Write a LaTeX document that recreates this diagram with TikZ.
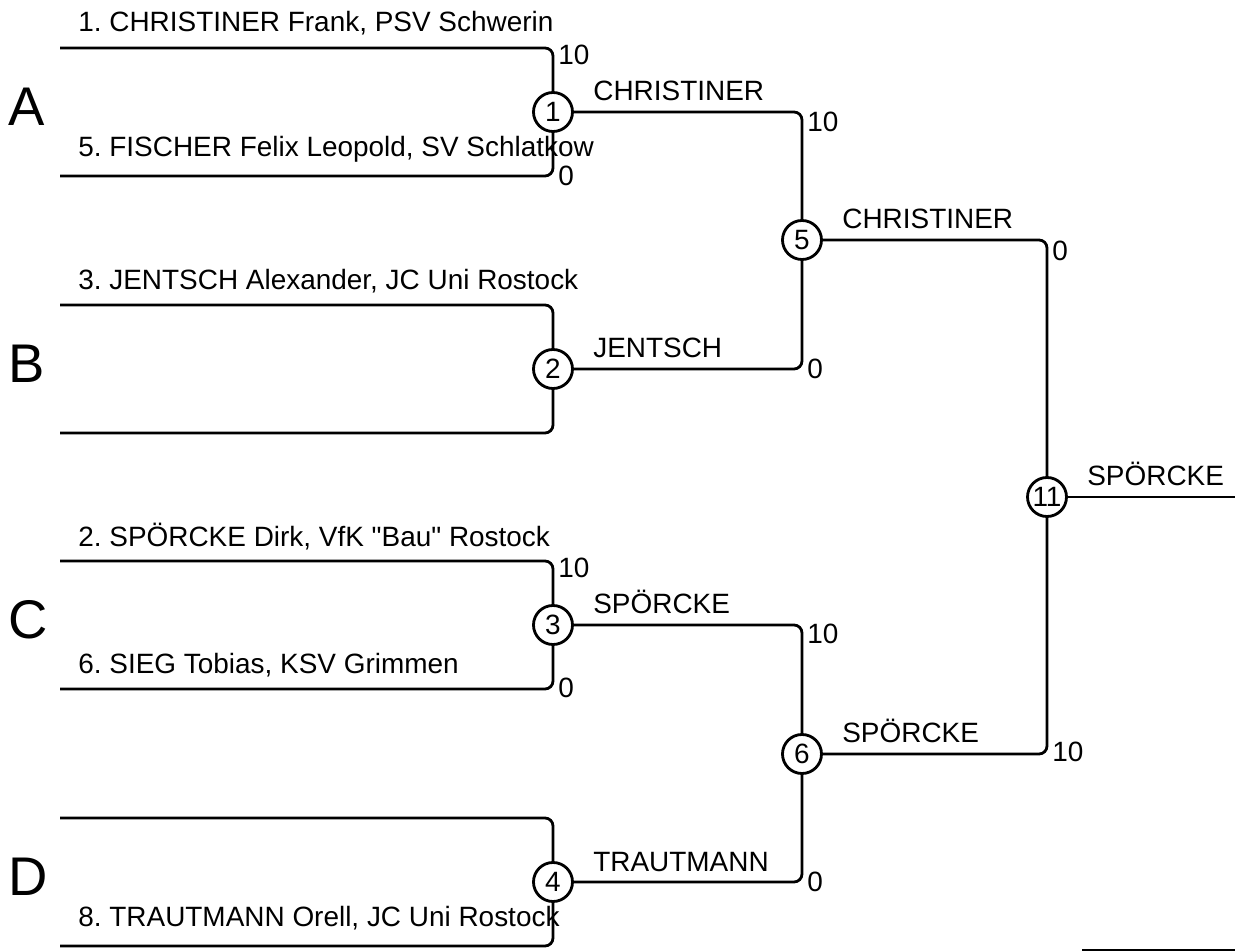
\documentclass[tikz,border=0pt]{standalone}
\usepackage{fontspec}
\setmainfont{Liberation Sans}[Ligatures=TeXOff]
\frenchspacing
\begin{document}
\begin{tikzpicture}
            [
            x = 0.02cm, y = -0.02cm,
            every node/.style = {font=\fontsize{15.9}{19}\selectfont},
            bracket/.style = {line width=1.6pt, rounded corners=0.16cm},
            ]
            \tikzstyle{match node}=[circle,draw,line width=1.6pt,fill=white,inner sep=0,minimum size=0.78cm]
            \tikzstyle{name node}=[anchor=base west,inner sep=0]
            \tikzstyle{win node}=[anchor=base west,inner sep=0]
            \tikzstyle{score node}=[anchor=west,inner sep=0]
            \tikzstyle{pool node}=[anchor=west,inner sep=0,font=\fontsize{31}{36}\selectfont]

            \useasboundingbox (0,0) rectangle (1235,952);

            % start of each line
            \coordinate (a1) at (60,48);
            \coordinate (a5) at (60,176);
            \coordinate (b3) at (60,305);
            \coordinate (b0) at (60,433);
            \coordinate (c2) at (60,561);
            \coordinate (c6) at (60,689);
            \coordinate (d0) at (60,818);
            \coordinate (d8) at (60,946);
            \coordinate (out) at (1235,497);
            \coordinate (rest1) at (1082,950);
            \coordinate (rest2) at (1235,950);

            % matches
            \node[match node] (m1) at (553,112) {1};
            \node[match node] (m2) at (553,369) {2};
            \node[match node] (m3) at (553,625) {3};
            \node[match node] (m4) at (553,882) {4};
            \node[match node] (m5) at (802,240) {5};
            \node[match node] (m6) at (802,754) {6};
            \node[match node] (m11) at (1047,497) {11};

            % brackets
            \draw[bracket] (a1) -| (m1);
            \draw[bracket] (a5) -| (m1);
            \draw[bracket] (b3) -| (m2);
            \draw[bracket] (b0) -| (m2);
            \draw[bracket] (c2) -| (m3);
            \draw[bracket] (c6) -| (m3);
            \draw[bracket] (d0) -| (m4);
            \draw[bracket] (d8) -| (m4);
            \draw[bracket] (m1) -| (m5);
            \draw[bracket] (m2) -| (m5);
            \draw[bracket] (m3) -| (m6);
            \draw[bracket] (m4) -| (m6);
            \draw[bracket] (m5) -| (m11);
            \draw[bracket] (m6) -| (m11);
            \draw[bracket] (m11) -- (out);
            \draw[line width=1.2pt] (rest1) -- (rest2);

            % pools
            \node[pool node] (pA) at (8,107) {A};
            \node[pool node] (pB) at (8,364) {B};
            \node[pool node] (pC) at (8,620) {C};
            \node[pool node] (pD) at (8,877) {D};

            % players
            \node[name node] (n1) at (78,32) {1. CHRISTINER Frank, PSV Schwerin};
            \node[name node] (n5) at (78,157) {5. FISCHER Felix Leopold, SV Schlatkow};
            \node[name node] (n3) at (78,290) {3. JENTSCH Alexander, JC Uni Rostock};
            \node[name node] (n2) at (78,547) {2. SPÖRCKE Dirk, VfK "Bau" Rostock};
            \node[name node] (n6) at (78,674) {6. SIEG Tobias, KSV Grimmen};
            \node[name node] (n8) at (78,927) {8. TRAUTMANN Orell, JC Uni Rostock};

            % winners
            \node[win node] (w1) at (593,101) {CHRISTINER};
            \node[win node] (w2) at (593,358) {JENTSCH};
            \node[win node] (w3) at (593,614) {SPÖRCKE};
            \node[win node] (w4) at (593,871) {TRAUTMANN};
            \node[win node] (w5) at (842,229) {CHRISTINER};
            \node[win node] (w6) at (842,743) {SPÖRCKE};
            \node[win node] (w11) at (1087,486) {SPÖRCKE};

            % scores
            \node[score node] (s1a) at (558,55) {10};
            \node[score node] (s1b) at (558,176) {0};
            \node[score node] (s3a) at (558,568) {10};
            \node[score node] (s3b) at (558,688) {0};
            \node[score node] (s5a) at (807,122) {10};
            \node[score node] (s5b) at (807,369) {0};
            \node[score node] (s6a) at (807,634) {10};
            \node[score node] (s6b) at (807,882) {0};
            \node[score node] (s11a) at (1052,251) {0};
            \node[score node] (s11b) at (1052,752) {10};
\end{tikzpicture}
\end{document}
